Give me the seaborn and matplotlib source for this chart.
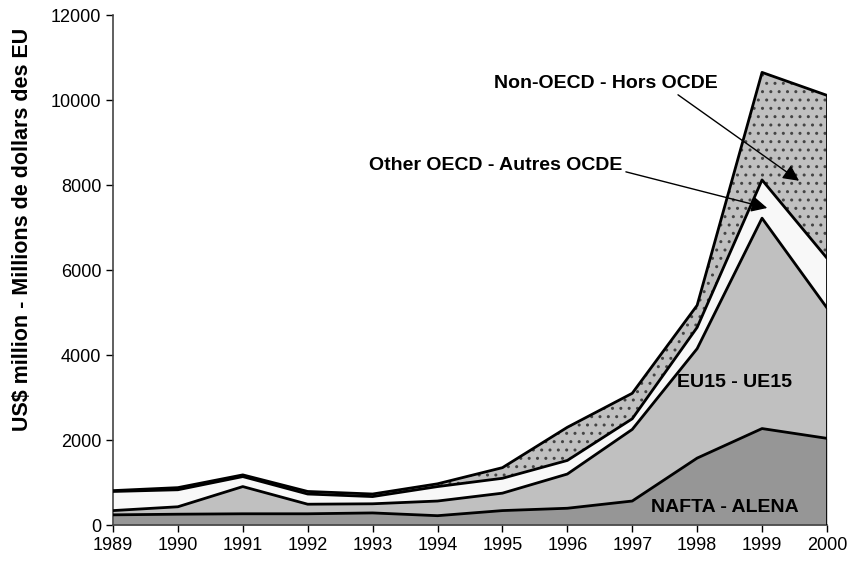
import numpy as np
import pandas as pd
import seaborn as sns
import matplotlib.pyplot as plt

# values (US$ million)
years = [1989, 1990, 1991, 1992, 1993, 1994, 1995, 1996, 1997, 1998, 1999, 2000]
nafta = [240, 255, 265, 265, 285, 220, 340, 395, 565, 1575, 2270, 2040]
eu15 = [100, 175, 640, 225, 215, 345, 410, 805, 1685, 2575, 4950, 3070]
other_oecd = [450, 400, 235, 240, 170, 340, 350, 320, 250, 500, 900, 1170]
non_oecd = [20, 50, 40, 60, 60, 65, 250, 780, 600, 520, 2530, 3830]

labels = ['NAFTA - ALENA', 'EU15 - UE15', 'Other OECD - Autres OCDE', 'Non-OECD - Hors OCDE']
colors = ['#969696', '#c0c0c0', '#f8f8f8', '#c0c0c0']

sns.set_style('ticks')
plt.rcParams['font.family'] = ['Liberation Sans', 'DejaVu Sans']
plt.rcParams['hatch.linewidth'] = 1.0
for k in ['text.color', 'axes.labelcolor', 'xtick.color', 'ytick.color']:
    plt.rcParams[k] = 'black'

df = pd.DataFrame({'year': years, 'nafta': nafta, 'eu15': eu15,
                   'other': other_oecd, 'non': non_oecd})
tops = df[['nafta', 'eu15', 'other', 'non']].cumsum(axis=1)

fig = plt.figure(figsize=(8.52, 5.67), dpi=100)
ax = fig.add_axes([0.1326, 0.074, 0.838, 0.8995])

bottom = np.zeros(len(years))
for i, col in enumerate(['nafta', 'eu15', 'other', 'non']):
    top = tops[col].values
    if col == 'non':
        ax.fill_between(df['year'], bottom, top, facecolor=colors[i],
                        edgecolor='#444444', lw=0, hatch='..', zorder=1)
    else:
        ax.fill_between(df['year'], bottom, top, facecolor=colors[i], lw=0, zorder=1)
    sns.lineplot(x=df['year'], y=top, color='black', lw=2, ax=ax, zorder=3)
    bottom = top
ax.vlines(2000, 0, tops['non'].iloc[-1], color='black', lw=2, zorder=3)

ax.set_xlim(1989, 2000)
ax.set_ylim(0, 12000)
ax.set_xticks(years)
ax.set_yticks(range(0, 12001, 2000))
ax.tick_params(labelsize=13, length=5, width=1)
ax.set_xlabel('')
ax.set_ylabel('US\\$ million - Millions de dollars des EU', fontsize=15.5, fontweight='bold')
ax.yaxis.set_label_coords(-0.112, 0.58)
for s in ['top', 'right']:
    ax.spines[s].set_visible(False)
for s in ['left', 'bottom']:
    ax.spines[s].set_color('#444444')
    ax.spines[s].set_linewidth(1.2)

ax.text(1998.43, 420, labels[0], fontsize=14, fontweight='bold', ha='center', va='center', zorder=4)
ax.text(1998.57, 3350, labels[1], fontsize=14, fontweight='bold', ha='center', va='center', zorder=4)
ax.annotate(labels[2], xy=(1999.08, 7460), xytext=(1994.9, 8450), fontsize=14,
            fontweight='bold', ha='center', va='center', zorder=4,
            arrowprops=dict(arrowstyle='-|>', color='black', lw=1, mutation_scale=24,
                            shrinkA=0, shrinkB=0, relpos=(1.0, 0.2)))
ax.annotate(labels[3], xy=(1999.57, 8100), xytext=(1996.6, 10400), fontsize=14,
            fontweight='bold', ha='center', va='center', zorder=4,
            arrowprops=dict(arrowstyle='-|>', color='black', lw=1, mutation_scale=24,
                            shrinkA=0, shrinkB=0, relpos=(0.8, 0.0)))

fig.savefig('out.png', dpi=100)
